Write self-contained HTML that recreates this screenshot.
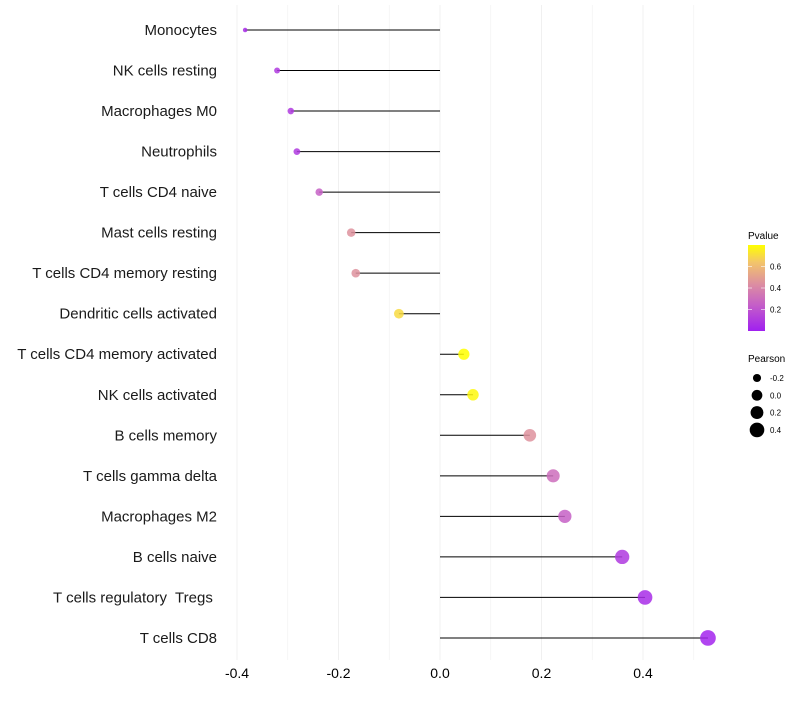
<!DOCTYPE html>
<html><head><meta charset="utf-8"><style>
body{margin:0;background:#fff;}
svg text{font-family:"Liberation Sans",sans-serif;white-space:pre;}
</style></head><body>
<svg id="chart" width="800" height="700" xmlns="http://www.w3.org/2000/svg">
<defs>
<linearGradient id="pg" x1="0" y1="1" x2="0" y2="0">
<stop offset="0" stop-color="#a020f0"/>
<stop offset="0.3" stop-color="#c45ec8"/>
<stop offset="0.55" stop-color="#dd8fa0"/>
<stop offset="0.8" stop-color="#f3c56a"/>
<stop offset="1" stop-color="#ffff00"/>
</linearGradient>
</defs>
<g id="grid"></g>
<g id="marks"></g>
<g id="ylabels"></g>
<g id="xlabels"></g>
<g>
<text x="748" y="239" font-size="10" fill="#000">Pvalue</text>
<rect x="748" y="245" width="17" height="86" fill="url(#pg)"/>
<g id="pticks"></g>
</g>
<g id="sizelegend">
<text x="748" y="362" font-size="10" fill="#000">Pearson</text>
</g>
</svg>
<script>
const categories=["Monocytes","NK cells resting","Macrophages M0","Neutrophils","T cells CD4 naive","Mast cells resting","T cells CD4 memory resting","Dendritic cells activated","T cells CD4 memory activated","NK cells activated","B cells memory","T cells gamma delta","Macrophages M2","B cells naive","T cells regulatory  Tregs ","T cells CD8"];
const pearson=[-0.384,-0.321,-0.294,-0.282,-0.238,-0.175,-0.166,-0.081,0.047,0.065,0.177,0.223,0.246,0.359,0.404,0.528];
const pvalues=[0.05,0.1,0.1,0.1,0.25,0.45,0.45,0.7,0.8,0.78,0.45,0.3,0.25,0.1,0.05,0.02];
const xTicks=[-0.4,-0.2,0.0,0.2,0.4];
const xTickLabels=["-0.4","-0.2","0.0","0.2","0.4"];
const pTicks=[0.2,0.4,0.6];
const sizeLegendValues=[-0.2,0.0,0.2,0.4];

const NS="http://www.w3.org/2000/svg";
function mk(tag,attrs,parent){const e=document.createElementNS(NS,tag);for(const k in attrs)e.setAttribute(k,attrs[k]);parent.appendChild(e);return e;}
const xs=v=>440+v*507.5;
const ys=i=>30+i*40.53;
const rs=v=>Math.sqrt(Math.max(5+62*(v+0.384),2));
const stops=[[0,[160,32,240]],[0.3,[196,94,200]],[0.55,[221,143,160]],[0.8,[243,197,106]],[1,[255,255,0]]];
function col(p){let t=Math.min(1,Math.max(0,p/0.8));for(let i=1;i<stops.length;i++){if(t<=stops[i][0]){const a=stops[i-1],b=stops[i];const f=(t-a[0])/(b[0]-a[0]);const c=a[1].map((x,j)=>Math.round(x+(b[1][j]-x)*f));return `rgb(${c})`;}}return "rgb(255,255,0)";}
const py=p=>331-p/0.8*86;

const grid=document.getElementById('grid');
for(let v=-0.4;v<=0.55;v+=0.1){const g=mk('line',{x1:xs(v),x2:xs(v),y1:5,y2:660,stroke:'#f0f0f0','stroke-width':Math.abs(Math.round(v*10))%2===0?1:0.6},grid);

}

const marks=document.getElementById('marks');
const yl=document.getElementById('ylabels');
categories.forEach((c,i)=>{
 const y=ys(i);
 const ln=mk('line',{x1:xs(0),x2:xs(pearson[i]),y1:y,y2:y,stroke:'#000','stroke-width':1},marks);
 
 
 const pt=mk('circle',{cx:xs(pearson[i]),cy:y,r:rs(pearson[i]),fill:col(pvalues[i]),'fill-opacity':0.85},marks);
 
 
 const t=mk('text',{x:217,y:y+5,'text-anchor':'end','font-size':15,fill:'#1a1a1a'},yl);
 t.textContent=c;
 
 
});
const xl=document.getElementById('xlabels');
xTicks.forEach((v,i)=>{const t=mk('text',{x:xs(v),y:678,'text-anchor':'middle','font-size':14,fill:'#000'},xl);t.textContent=xTickLabels[i];

});
const pt=document.getElementById('pticks');
pTicks.forEach(p=>{mk('line',{x1:748,x2:752,y1:py(p),y2:py(p),stroke:'#fff','stroke-width':0.6},pt);mk('line',{x1:761,x2:765,y1:py(p),y2:py(p),stroke:'#fff','stroke-width':0.6},pt);
const t=mk('text',{x:770,y:py(p)+3,'font-size':8,fill:'#000'},pt);t.textContent=p.toFixed(1);

});
const sl=document.getElementById('sizelegend');
sizeLegendValues.forEach((v,i)=>{const y=378+i*17.3;const c=mk('circle',{cx:757,cy:y,r:rs(v),fill:'#000'},sl);


const t=mk('text',{x:770,y:y+3,'font-size':8,fill:'#000'},sl);t.textContent=v.toFixed(1);

});
</script>
</body></html>
